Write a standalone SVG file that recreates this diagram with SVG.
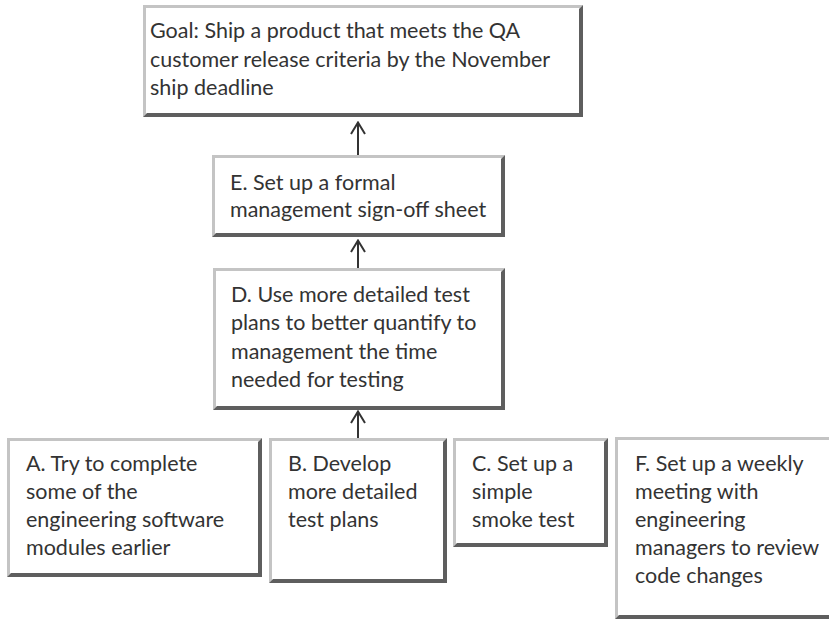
<svg xmlns="http://www.w3.org/2000/svg" width="829" height="622" viewBox="0 0 829 622">
  <defs>
    <style>
      .face { fill: #ffffff; }
      .lit { fill: #c4c4c4; }
      .shade { fill: #5e5e5e; }
      .label { font-family: Lato, "Liberation Sans", sans-serif; font-size: 21.5px; fill: #333333; }
      .link { stroke: #333333; stroke-width: 2; fill: none; }
    </style>
    <!-- open V arrowhead, drawn along +x so orient="auto" follows the line -->
    <marker id="head" viewBox="0 0 14 16" refX="13" refY="8" markerWidth="14" markerHeight="16" markerUnits="userSpaceOnUse" orient="auto">
      <path d="M1,1 L12.5,8 L1,15" fill="none" stroke="#333333" stroke-width="2"/>
    </marker>
  </defs>
  <rect width="829" height="622" fill="#ffffff"/>

  <!-- connectors: each arrow points up to the box it feeds -->
  <g id="connectors">
    <line class="link" x1="358" y1="155" x2="358" y2="122" marker-end="url(#head)"/>
    <line class="link" x1="358" y1="268" x2="358" y2="240" marker-end="url(#head)"/>
    <line class="link" x1="358" y1="438" x2="358" y2="411" marker-end="url(#head)"/>
  </g>

  <!-- bevelled boxes: light top/left edge, dark right/bottom edge -->
  <g id="goal">
    <rect class="face" x="143" y="5" width="440" height="112"/>
    <path class="lit" d="M143,5 H583 L580,8 H146 V114 L143,117 Z"/>
    <path class="shade" d="M583,5 V117 H143 L147,113 H579 V9 Z"/>
    <text class="label" x="150" y="38">Goal: Ship a product that meets the QA</text>
    <text class="label" x="150" y="66.5">customer release criteria by the November</text>
    <text class="label" x="150" y="95">ship deadline</text>
  </g>

  <g id="step-e">
    <rect class="face" x="212" y="155" width="293" height="82"/>
    <path class="lit" d="M212,155 H505 L502,158 H215 V234 L212,237 Z"/>
    <path class="shade" d="M505,155 V237 H212 L216,233 H501 V159 Z"/>
    <text class="label" x="230" y="190">E. Set up a formal</text>
    <text class="label" x="230" y="217">management sign-off sheet</text>
  </g>

  <g id="step-d">
    <rect class="face" x="213" y="268" width="292" height="142"/>
    <path class="lit" d="M213,268 H505 L502,271 H216 V407 L213,410 Z"/>
    <path class="shade" d="M505,268 V410 H213 L217,406 H501 V272 Z"/>
    <text class="label" x="231" y="302">D. Use more detailed test</text>
    <text class="label" x="231" y="330">plans to better quantify to</text>
    <text class="label" x="231" y="358.5">management the time</text>
    <text class="label" x="231" y="387">needed for testing</text>
  </g>

  <g id="step-a">
    <rect class="face" x="7" y="438" width="255" height="139"/>
    <path class="lit" d="M7,438 H262 L259,441 H10 V574 L7,577 Z"/>
    <path class="shade" d="M262,438 V577 H7 L11,573 H258 V442 Z"/>
    <text class="label" x="26" y="471">A. Try to complete</text>
    <text class="label" x="26" y="499">some of the</text>
    <text class="label" x="26" y="527">engineering software</text>
    <text class="label" x="26" y="555">modules earlier</text>
  </g>

  <g id="step-b">
    <rect class="face" x="269" y="438" width="178" height="145"/>
    <path class="lit" d="M269,438 H447 L444,441 H272 V580 L269,583 Z"/>
    <path class="shade" d="M447,438 V583 H269 L273,579 H443 V442 Z"/>
    <text class="label" x="288" y="471">B. Develop</text>
    <text class="label" x="288" y="499">more detailed</text>
    <text class="label" x="288" y="527">test plans</text>
  </g>

  <g id="step-c">
    <rect class="face" x="453" y="438" width="155" height="109"/>
    <path class="lit" d="M453,438 H608 L605,441 H456 V544 L453,547 Z"/>
    <path class="shade" d="M608,438 V547 H453 L457,543 H604 V442 Z"/>
    <text class="label" x="472" y="471">C. Set up a</text>
    <text class="label" x="472" y="499">simple</text>
    <text class="label" x="472" y="527">smoke test</text>
  </g>

  <g id="step-f">
    <rect class="face" x="615" y="437" width="230" height="182"/>
    <path class="lit" d="M615,437 H845 V440 H618 V616 L615,619 Z"/>
    <path class="shade" d="M845,615 V619 H615 L619,615 Z"/>
    <text class="label" x="635" y="471">F. Set up a weekly</text>
    <text class="label" x="635" y="499">meeting with</text>
    <text class="label" x="635" y="527">engineering</text>
    <text class="label" x="635" y="555">managers to review</text>
    <text class="label" x="635" y="583">code changes</text>
  </g>
</svg>
